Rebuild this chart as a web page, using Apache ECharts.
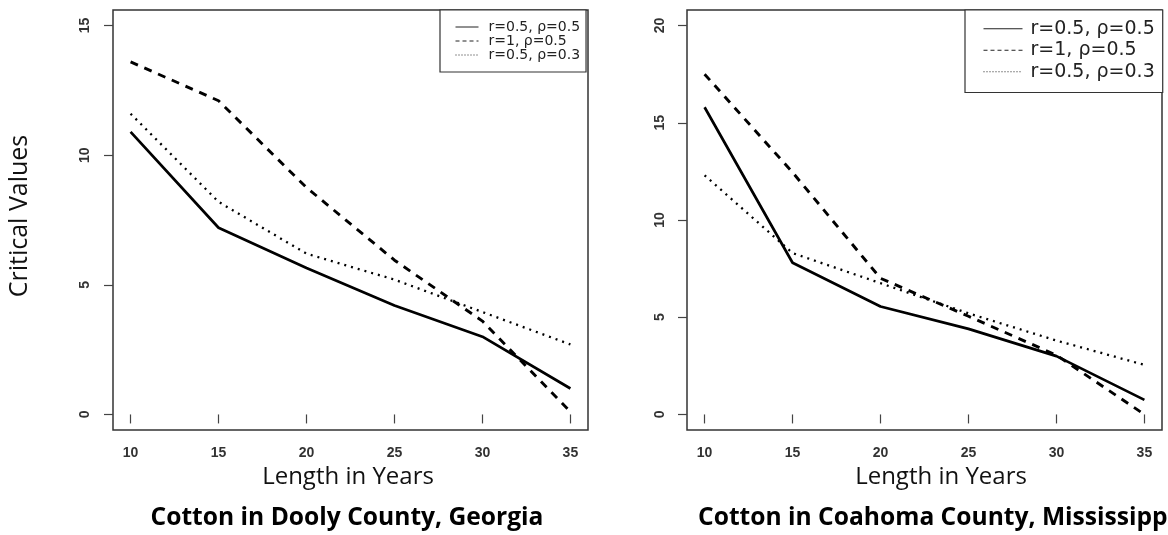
<!DOCTYPE html>
<html>
<head>
<meta charset="utf-8">
<script src="https://cdn.jsdelivr.net/npm/echarts@6.0.0/dist/echarts.min.js"></script>
<style>
  html, body { margin: 0; padding: 0; background: #fff; }
  #chart { width: 1168px; height: 535px; }
</style>
</head>
<body>
<div id="chart"></div>
<script>
var years = [10, 15, 20, 25, 30, 35];
var seriesNames = ['r=0.5, ρ=0.5', 'r=1, ρ=0.5', 'r=0.5, ρ=0.3'];

// Dooly County, Georgia
var doolyA = [10.9, 7.2, 5.65, 4.2, 3.0, 1.0];
var doolyB = [13.6, 12.1, 8.75, 5.95, 3.6, 0.1];
var doolyC = [11.6, 8.2, 6.2, 5.2, 3.95, 2.7];

// Coahoma County, Mississippi
var coahomaA = [15.8, 7.8, 5.55, 4.4, 3.0, 0.75];
var coahomaB = [17.5, 12.45, 7.0, 5.05, 3.05, 0.0];
var coahomaC = [12.3, 8.3, 6.75, 5.2, 3.8, 2.55];

var xTicks = [10, 15, 20, 25, 30, 35];
var yTicksLeft = [0, 5, 10, 15];
var yTicksRight = [0, 5, 10, 15, 20];

var axisFont = { color: '#333', fontFamily: 'Liberation Sans', fontWeight: 'bold', fontSize: 14 };
var lineTypes = [
    { type: 'solid', width: 2.7 },
    { type: [8, 7], width: 2.9 },
    { type: [2, 5], width: 2.3 }
];
// thinner dash patterns for the legend keys
var keyTypes = ['solid', [4, 3], [1, 2]];

function pairs(vals) {
    return years.map(function (x, i) { return [x, vals[i]]; });
}

function makeSeries(list, gi) {
    return list.map(function (vals, k) {
        return {
            name: seriesNames[k],
            type: 'line',
            xAxisIndex: gi,
            yAxisIndex: gi,
            symbol: 'none',
            data: pairs(vals),
            itemStyle: { color: '#000' },
            lineStyle: { color: '#000', type: lineTypes[k].type, width: lineTypes[k].width }
        };
    });
}

function legendData() {
    return seriesNames.map(function (n, k) {
        return { name: n, lineStyle: { type: keyTypes[k], width: 1, color: '#222' } };
    });
}

function xAxisFor(gi) {
    return {
        type: 'value', gridIndex: gi, min: 9, max: 36,
        axisLine: { show: false },
        splitLine: { show: false },
        axisTick: { show: true, length: 9, customValues: xTicks, lineStyle: { color: '#444', width: 1.2 } },
        axisLabel: Object.assign({ margin: 16, customValues: xTicks }, axisFont)
    };
}

function yAxisFor(gi, min, max, ticks, margin) {
    return {
        type: 'value', gridIndex: gi, min: min, max: max,
        axisLine: { show: false },
        splitLine: { show: false },
        axisTick: { show: true, length: 9, customValues: ticks, lineStyle: { color: '#444', width: 1.2 } },
        axisLabel: Object.assign({ margin: margin, rotate: 90, customValues: ticks }, axisFont)
    };
}

var chart = echarts.init(document.getElementById('chart'));

var option = {
    animation: false,
    backgroundColor: '#fff',
    grid: [
        { left: 113, top: 10, width: 475, height: 420, show: true, borderColor: '#333', borderWidth: 1.5 },
        { left: 687, top: 10, width: 475, height: 420, show: true, borderColor: '#333', borderWidth: 1.5 }
    ],
    xAxis: [xAxisFor(0), xAxisFor(1)],
    yAxis: [
        yAxisFor(0, -0.6, 15.6, yTicksLeft, 21),
        yAxisFor(1, -0.8, 20.8, yTicksRight, 20)
    ],
    legend: [
        {
            data: legendData(), orient: 'vertical', left: 440, top: 10,
            itemWidth: 23, itemHeight: 12, itemGap: 0,
            padding: [10, 6, 10, 15],
            borderColor: '#333', borderWidth: 1.2, backgroundColor: '#fff',
            itemStyle: { opacity: 0 },
            lineStyle: { width: 1, color: '#222' },
            textStyle: { fontFamily: 'DejaVu Sans', fontSize: 14, lineHeight: 14, color: '#222', padding: [0, 0, 0, 5] }
        },
        {
            data: legendData(), orient: 'vertical', left: 965, top: 10,
            itemWidth: 39, itemHeight: 14, itemGap: 0,
            padding: [8, 8, 10, 18],
            borderColor: '#333', borderWidth: 1.2, backgroundColor: '#fff',
            itemStyle: { opacity: 0 },
            lineStyle: { width: 1, color: '#222' },
            textStyle: { fontFamily: 'DejaVu Sans', fontSize: 19, lineHeight: 21.5, color: '#222', padding: [0, 0, 0, 3] }
        }
    ],
    graphic: [
        { type: 'text', x: 20, y: 216, rotation: Math.PI / 2,
          style: { text: 'Critical Values', font: '25px "Open Sans"', fill: '#111', textAlign: 'center', textVerticalAlign: 'middle' } },
        { type: 'text', x: 348, y: 477,
          style: { text: 'Length in Years', font: '24px "Open Sans"', fill: '#111', textAlign: 'center', textVerticalAlign: 'middle' } },
        { type: 'text', x: 941, y: 477,
          style: { text: 'Length in Years', font: '24px "Open Sans"', fill: '#111', textAlign: 'center', textVerticalAlign: 'middle' } },
        { type: 'text', x: 347, y: 518,
          style: { text: 'Cotton in Dooly County, Georgia', font: 'bold 24.6px "Open Sans"', fill: '#000', textAlign: 'center', textVerticalAlign: 'middle' } },
        { type: 'text', x: 698, y: 518,
          style: { text: 'Cotton in Coahoma County, Mississippi', font: 'bold 24.6px "Open Sans"', fill: '#000', textAlign: 'left', textVerticalAlign: 'middle' } }
    ],
    series: makeSeries([doolyA, doolyB, doolyC], 0).concat(makeSeries([coahomaA, coahomaB, coahomaC], 1))
};

chart.setOption(option);
</script>
</body>
</html>
